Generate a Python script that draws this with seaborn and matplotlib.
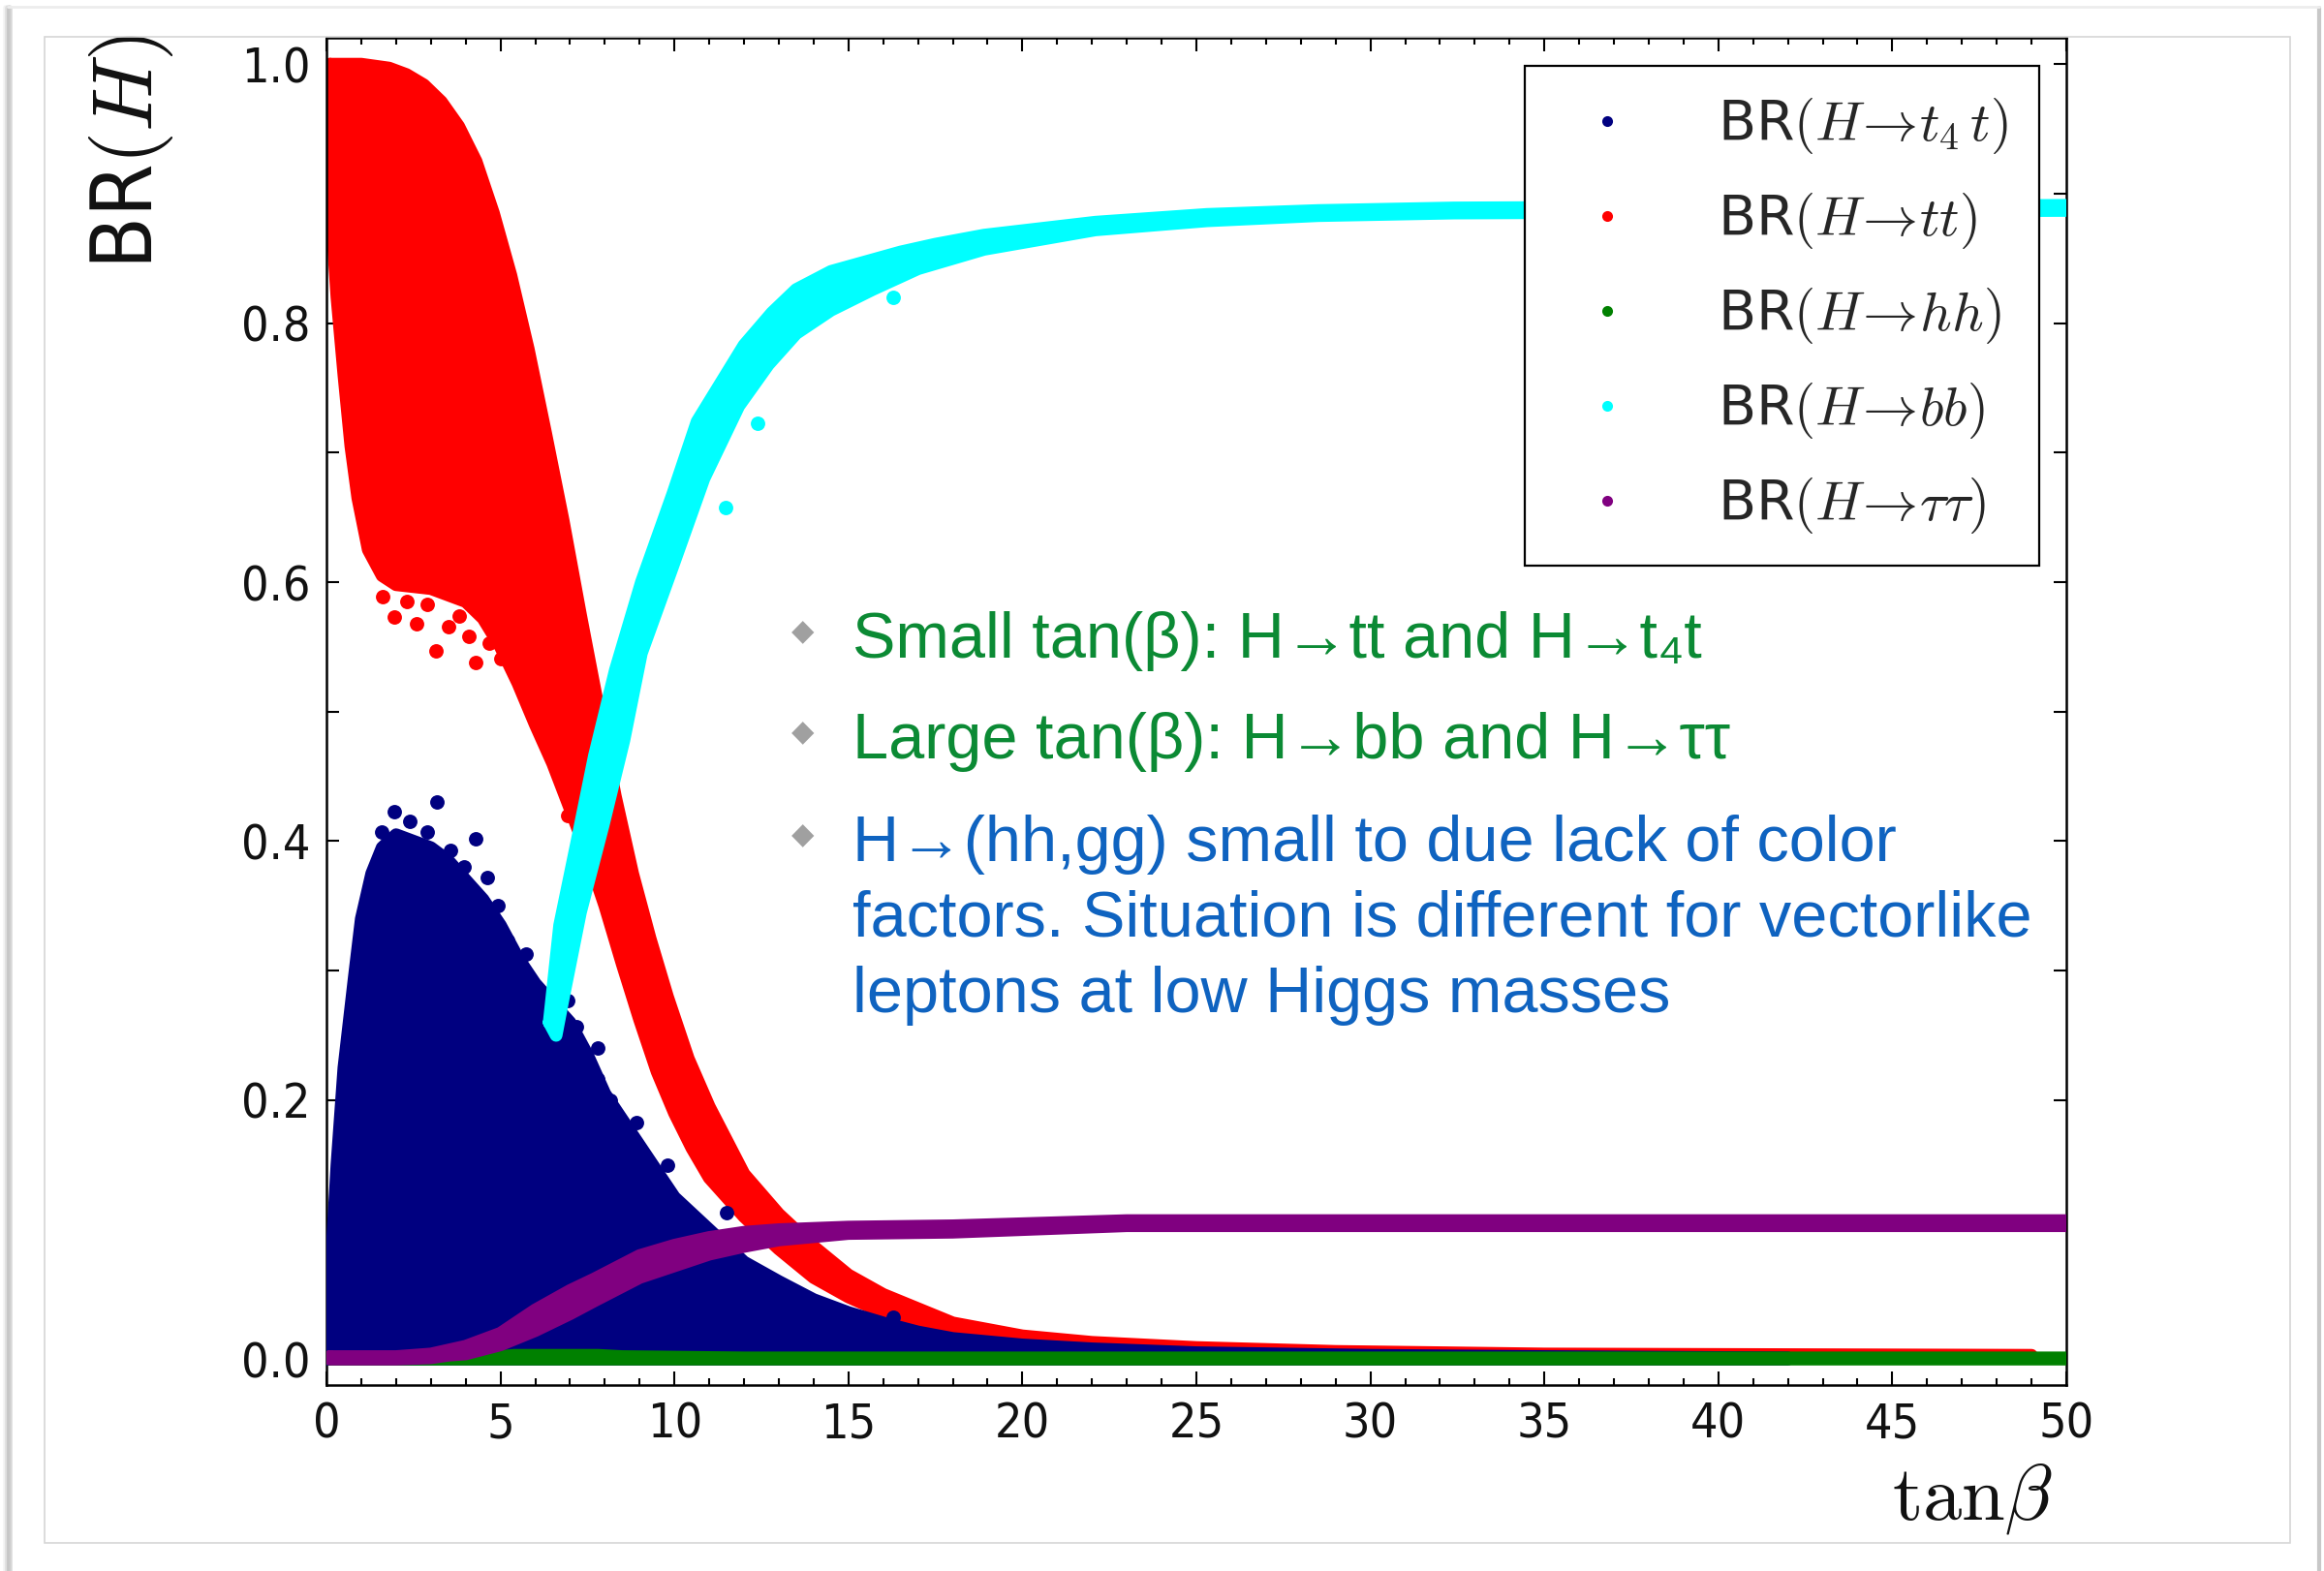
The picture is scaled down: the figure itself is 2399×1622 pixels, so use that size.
import numpy as np
import pandas as pd
import matplotlib
matplotlib.use("Agg")
import matplotlib.pyplot as plt
import seaborn as sns
from matplotlib import font_manager
from matplotlib.lines import Line2D
from matplotlib.patches import Rectangle
from matplotlib.ticker import MultipleLocator, FormatStrFormatter

# ---------------- data (envelopes of the scatter) ----------------
# BR(H -> t t), red
tt_up_t = [0.1, 1.0, 1.8, 2.3, 2.8, 3.3, 3.8, 4.3, 4.8, 5.3, 5.8, 6.3, 6.8, 7.3, 7.8, 8.3, 8.8, 9.3,
           9.8, 10.4, 11.0, 12.0, 13.0, 14.0, 15.0, 16.0, 18.0, 20.0, 22.0, 25.0, 29.0, 35.0, 49.0]
tt_up_br = [1.0, 1.0, 0.997, 0.992, 0.984, 0.971, 0.952, 0.925, 0.885, 0.837, 0.78, 0.715, 0.648,
            0.575, 0.505, 0.435, 0.375, 0.325, 0.28, 0.232, 0.195, 0.143, 0.112, 0.087, 0.065, 0.05,
            0.028, 0.018, 0.013, 0.009, 0.006, 0.004, 0.003]
tt_lo_t = [0.1, 0.3, 0.5, 0.7, 0.9, 1.2, 1.6, 2.0, 3.0, 4.0, 4.5, 5.0, 5.5, 6.0, 6.5, 7.0, 7.5, 8.0,
           8.5, 9.0, 9.5, 10.0, 10.5, 11.0, 12.0, 13.0, 14.0, 15.0, 16.0, 18.0, 20.0, 22.0, 25.0,
           29.0, 35.0, 49.0]
tt_lo_br = [0.90, 0.82, 0.76, 0.705, 0.665, 0.625, 0.605, 0.598, 0.595, 0.585, 0.572, 0.55, 0.522,
            0.49, 0.46, 0.425, 0.39, 0.35, 0.305, 0.262, 0.222, 0.19, 0.163, 0.14, 0.11, 0.085,
            0.063, 0.048, 0.036, 0.02, 0.012, 0.009, 0.006, 0.004, 0.003, 0.002]
tt_out_t = [1.62, 1.95, 2.3, 2.6, 2.9, 3.15, 3.5, 3.82, 4.1, 4.29, 4.43, 4.68, 5.0, 5.43, 6.94]
tt_out_br = [0.589, 0.573, 0.585, 0.568, 0.583, 0.547, 0.566, 0.574, 0.558, 0.538, 0.58, 0.553,
             0.541, 0.53, 0.42]

# BR(H -> t4 t), navy
t4t_up_t = [0.05, 0.15, 0.3, 0.5, 0.8, 1.0, 1.3, 1.6, 2.0, 2.5, 3.0, 3.5, 4.0, 4.5, 5.0, 5.5, 6.0,
            6.5, 7.0, 7.5, 8.0, 8.5, 9.0, 9.5, 10.0, 11.0, 12.0, 13.0, 14.0, 15.0, 16.0, 17.0, 18.0,
            20.0, 22.0, 25.0, 30.0, 35.0, 42.0]
t4t_up_br = [0.0, 0.08, 0.15, 0.225, 0.295, 0.34, 0.375, 0.395, 0.405, 0.40, 0.395, 0.385, 0.37,
             0.355, 0.335, 0.31, 0.29, 0.275, 0.26, 0.235, 0.205, 0.185, 0.165, 0.145, 0.125, 0.10,
             0.075, 0.06, 0.046, 0.036, 0.028, 0.021, 0.016, 0.011, 0.008, 0.005, 0.003, 0.002, 0.001]
t4t_lo_t = [0.05, 42.0]
t4t_lo_br = [0.0, 0.0]
t4t_out_t = [1.58, 1.95, 2.4, 2.9, 3.18, 3.57, 3.95, 4.28, 4.62, 4.93, 5.2, 5.74, 6.94, 7.19, 7.8,
             7.8, 8.17, 8.92, 8.92, 9.8, 11.5, 16.3]
t4t_out_br = [0.407, 0.423, 0.415, 0.407, 0.43, 0.393, 0.38, 0.402, 0.372, 0.35, 0.323, 0.313,
              0.277, 0.257, 0.24, 0.216, 0.2, 0.183, 0.163, 0.15, 0.113, 0.032]

# BR(H -> b b), cyan
bb_up_t = [6.4, 6.7, 7.2, 7.7, 8.3, 9.05, 9.95, 10.65, 12.0, 12.8, 13.5, 14.5, 15.7, 16.5, 17.5,
           18.9, 22.1, 25.3, 28.5, 32.4, 50.0]
bb_up_br = [0.26, 0.335, 0.40, 0.466, 0.532, 0.60, 0.668, 0.724, 0.783, 0.808, 0.826, 0.84, 0.849,
            0.855, 0.861, 0.868, 0.878, 0.884, 0.887, 0.889, 0.891]
bb_lo_t = [6.6, 6.8, 7.3, 7.95, 8.55, 9.05, 9.95, 10.85, 11.85, 12.7, 13.5, 14.5, 15.7, 17.0, 18.9,
           22.1, 25.3, 28.5, 32.4, 50.0]
bb_lo_br = [0.25, 0.278, 0.345, 0.412, 0.478, 0.545, 0.612, 0.68, 0.736, 0.768, 0.792, 0.81, 0.826,
            0.842, 0.857, 0.872, 0.879, 0.883, 0.885, 0.887]
bb_out_t = [11.48, 12.4, 16.3]
bb_out_br = [0.658, 0.723, 0.82]

# BR(H -> h h), green
hh_up_t = [0.1, 4.5, 5.4, 7.8, 8.5, 12.0, 50.0]
hh_up_br = [0.001, 0.001, 0.003, 0.003, 0.002, 0.001, 0.001]
hh_lo_t = [0.1, 50.0]
hh_lo_br = [0.0, 0.0]

# BR(H -> tau tau), purple
tau_t = [0.1, 2.0, 3.0, 3.5, 4.0, 5.0, 6.0, 7.0, 7.7, 9.0, 10.0, 11.0, 12.0, 13.0, 15.0, 18.0, 23.0, 50.0]
tau_up_br = [0.002, 0.002, 0.004, 0.007, 0.01, 0.02, 0.038, 0.053, 0.062, 0.08, 0.088, 0.094, 0.098,
             0.1, 0.102, 0.103, 0.107, 0.107]
tau_lo_br = [0.0, 0.0, 0.001, 0.003, 0.004, 0.011, 0.022, 0.035, 0.045, 0.063, 0.072, 0.081, 0.087,
             0.092, 0.097, 0.098, 0.103, 0.103]

legend_labels = ['BR$(H\\!\\to\\! t_4\\,t)$', 'BR$(H\\!\\to\\! tt)$', 'BR$(H\\!\\to\\! hh)$',
                 'BR$(H\\!\\to\\! bb)$', 'BR$(H\\!\\to\\! \\tau\\tau)$']
legend_colors = ['navy', 'red', 'green', 'cyan', 'purple']

notes = ['Small tan(\u03b2): H\u2192tt and H\u2192t\u2084t',
         'Large tan(\u03b2): H\u2192bb and H\u2192\u03c4\u03c4',
         'H\u2192(hh,gg) small to due lack of color',
         'factors. Situation is different for vectorlike',
         'leptons at low Higgs masses']

# ---------------- style ----------------
sns.set_theme(style="white")
plt.rcParams['font.family'] = ['DejaVu Sans']
plt.rcParams['mathtext.fontset'] = 'cm'
plt.rcParams['axes.edgecolor'] = 'black'

has_condensed = any(('DejaVu Sans' == f.name and f.stretch == 'condensed')
                    for f in font_manager.fontManager.ttflist)
TICK_FS = 36 if has_condensed else 34
TICK_STRETCH = 'condensed' if has_condensed else 'normal'

W, H = 2399, 1622
fig = plt.figure(figsize=(W / 100, H / 100), dpi=100)
fig.patch.set_facecolor('white')

# slide frame decorations
for i, a in enumerate([0.12, 0.22, 0.38]):
    fig.add_artist(Line2D([(6 + i * 2) / W] * 2, [0, 1 - 8 / H], transform=fig.transFigure,
                          color='#9a9a9a', alpha=a, lw=4))
fig.add_artist(Line2D([2394 / W] * 2, [0, 1 - 8 / H], transform=fig.transFigure,
                      color='#c8c8c8', lw=3))
fig.add_artist(Line2D([8 / W, 2394 / W], [1 - 7 / H] * 2, transform=fig.transFigure,
                      color='#ededed', lw=2))
fig.add_artist(Rectangle((46 / W, 1 - 1593 / H), (2364 - 46) / W, (1593 - 38) / H,
                         transform=fig.transFigure, fill=False, ec='#d6d6d6', lw=1.2))

ax_l, ax_r, ax_t, ax_b = 337, 2133, 39.5, 1430
ax = fig.add_axes([ax_l / W, 1 - ax_b / H, (ax_r - ax_l) / W, (ax_b - ax_t) / H])
ax.set_facecolor('white')

DOT_D = 9.4  # marker diameter in points
DOT_S = 115


def draw_band(t_up, br_up, t_lo, br_lo, color, z):
    xs = list(t_up) + list(t_lo)[::-1]
    ys = list(br_up) + list(br_lo)[::-1]
    ax.fill(xs, ys, color=color, lw=0, zorder=z)
    outline = pd.DataFrame({'t': xs + [xs[0]], 'br': ys + [ys[0]]})
    sns.lineplot(data=outline, x='t', y='br', sort=False, estimator=None, color=color,
                 linewidth=DOT_D, solid_capstyle='round', solid_joinstyle='round',
                 ax=ax, zorder=z, legend=False)


def draw_dots(t, br, color, z):
    sns.scatterplot(x=t, y=br, color=color, s=DOT_S, linewidth=0, ax=ax, zorder=z, legend=False)


draw_band(tt_up_t, tt_up_br, tt_lo_t, tt_lo_br, 'red', 2)
draw_dots(tt_out_t, tt_out_br, 'red', 2)
draw_band(t4t_up_t, t4t_up_br, t4t_lo_t, t4t_lo_br, 'navy', 3)
draw_dots(t4t_out_t, t4t_out_br, 'navy', 3)
draw_band(bb_up_t, bb_up_br, bb_lo_t, bb_lo_br, 'cyan', 4)
draw_dots(bb_out_t, bb_out_br, 'cyan', 4)
draw_band(hh_up_t, hh_up_br, hh_lo_t, hh_lo_br, 'green', 5)
draw_band(tau_t, tau_up_br, tau_t, tau_lo_br, 'purple', 6)

ax.set_xlim(0, 50)
ax.set_ylim(-0.02, 1.02)
ax.set_xlabel('')
ax.set_ylabel('')

for s in ax.spines.values():
    s.set_linewidth(1.8)
    s.set_color('black')
    s.set_visible(True)

ax.xaxis.set_major_locator(MultipleLocator(5))
ax.xaxis.set_minor_locator(MultipleLocator(1))
ax.yaxis.set_major_locator(MultipleLocator(0.2))
ax.yaxis.set_minor_locator(MultipleLocator(0.1))
ax.yaxis.set_major_formatter(FormatStrFormatter('%.1f'))
ax.tick_params(axis='both', which='both', direction='in', top=True, right=True,
               bottom=True, left=True, width=1.5, color='black')
ax.tick_params(axis='x', which='major', length=10, pad=12, labelsize=TICK_FS)
ax.tick_params(axis='x', which='minor', length=5)
ax.tick_params(axis='y', which='major', length=9.5, pad=12, labelsize=TICK_FS)
ax.tick_params(axis='y', which='minor', length=9.5)
for lbl in ax.get_xticklabels() + ax.get_yticklabels():
    lbl.set_fontstretch(TICK_STRETCH)
    lbl.set_color('#111111')

# axis titles
ax.text((135 - ax_l) / (ax_r - ax_l), 1.003, 'BR$(H)$', rotation=90, ha='center', va='top',
        fontsize=63, transform=ax.transAxes, color='#111111',
        fontstretch=TICK_STRETCH)
ax.text((2119 - ax_l) / (ax_r - ax_l), (ax_b - 1568) / (ax_b - ax_t), '$\\mathrm{tan}\\beta$',
        ha='right', va='baseline', fontsize=58, transform=ax.transAxes, color='#111111')

# legend
handles = [Line2D([], [], ls='', marker='o', markersize=8, markeredgewidth=0, color=c)
           for c in legend_colors]
leg = ax.legend(handles, legend_labels, loc='upper right', bbox_to_anchor=(1, 1),
                borderaxespad=0.5, fontsize=41, frameon=True, fancybox=False,
                edgecolor='black', framealpha=1, borderpad=0.55, handlelength=1.9,
                handletextpad=1.05, labelspacing=0.63, numpoints=1)
leg.get_frame().set_linewidth(1.6)
leg.set_zorder(10)

# slide annotations
green_c = '#0b8a34'
blue_c = '#0f63c0'
note_fam = ['Liberation Sans', 'DejaVu Sans']
note_x = 880
note_base = [679, 783, 889, 967, 1045]
note_cols = [green_c, green_c, blue_c, blue_c, blue_c]
for txt, yb, c in zip(notes, note_base, note_cols):
    fig.text(note_x / W, 1 - yb / H, txt, fontsize=48, color=c, family=note_fam,
             ha='left', va='baseline', zorder=20)
for yb in note_base[:3]:
    fig.text(829 / W, 1 - (yb - 26) / H, '\u25c6', fontsize=22, color='#a0a0a0',
             family=['DejaVu Sans'], ha='center', va='center', zorder=20)

fig.savefig('out.png', dpi=100, facecolor='white')
